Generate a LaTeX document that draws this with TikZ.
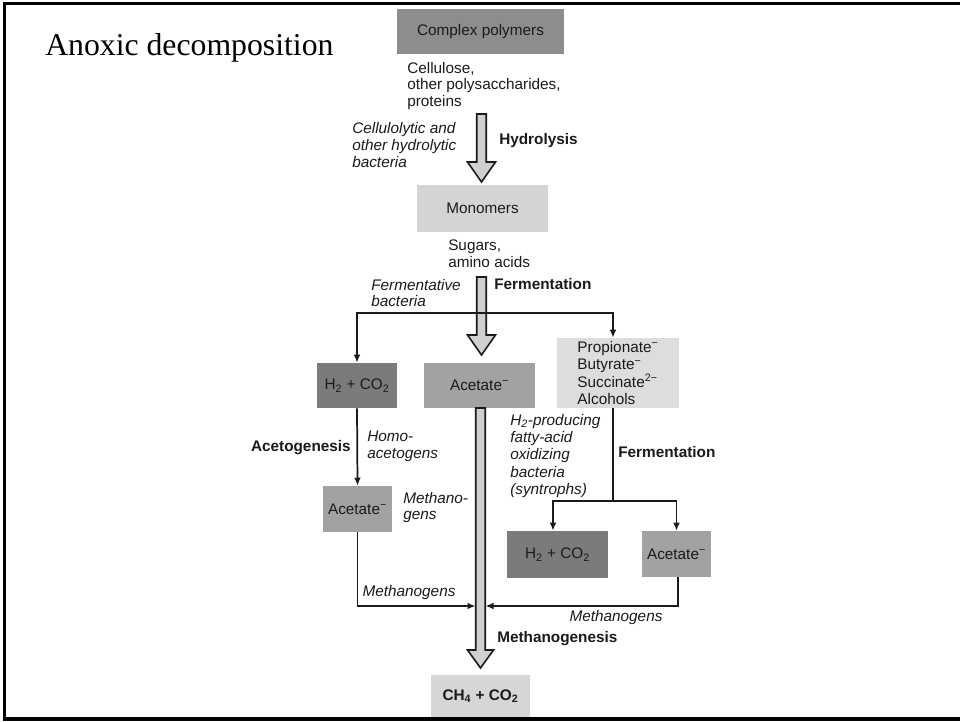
\documentclass[tikz,border=0pt]{standalone}
\usepackage{fontspec}
\setmainfont{Liberation Sans}
\newfontfamily\titlefont{Liberation Serif}
\usetikzlibrary{arrows.meta,calc}
\definecolor{gA}{HTML}{8D8D8D}
\definecolor{gB}{HTML}{D4D4D4}
\definecolor{gC}{HTML}{7B7B7B}
\definecolor{gD}{HTML}{A2A2A2}
\definecolor{gE}{HTML}{DDDDDD}
\definecolor{gF}{HTML}{D6D6D6}
\definecolor{gArr}{HTML}{D0D0D0}
\definecolor{ink}{HTML}{1A1A1A}
\newcommand\dfont{\fontsize{11.5pt}{12.6pt}\selectfont}
\newcommand\bigarrow[5]{%
  \draw[bigarr] ({#1-4.75},#2) -- ({#1-4.75},#3) -- ({#1-#5},#3) -- (#1,#4) -- ({#1+#5},#3) -- ({#1+4.75},#3) -- ({#1+4.75},#2) -- cycle;}
\tikzset{
  box/.style={inner sep=0pt, align=center, text=ink, font=\dfont},
  txt/.style={inner sep=0pt, align=left, text=ink, font=\dfont},
  itxt/.style={txt, font=\dfont\itshape},
  btxt/.style={txt, font=\dfont\bfseries},
  conn/.style={line width=1.3pt, draw=ink},
  arr/.style={conn, -{Latex[length=6pt,width=5pt]}},
  bigarr/.style={line width=1.2pt, draw=ink, fill=gArr, line join=miter},
  frame/.style={line width=2.4pt, draw=black}
}
\begin{document}
\begin{tikzpicture}[x=0.75pt,y=-0.75pt]
\useasboundingbox (0,0) rectangle (960,721);
% frame
\draw[frame] (960,3.5) -- (4.5,3.5) -- (4.5,719) -- (960,719);
% title
\node[anchor=base west, inner sep=0pt, font=\titlefont\fontsize{23.8pt}{26pt}\selectfont] (title) at (45,55) {Anoxic decomposition};

% boxes
\node[box, fill=gA, minimum width=125.25pt, minimum height=33.75pt] (cp) at (480.5,31.5) {Complex polymers};
\node[box, fill=gB, minimum width=98.25pt, minimum height=35.25pt] (mono) at (482.5,208.5) {Monomers};
\node[box, fill=gC, minimum width=60pt, minimum height=33.75pt] (h2l) at (357,385.5) {H\textsubscript{2} + CO\textsubscript{2}};
\node[box, fill=gD, minimum width=83.25pt, minimum height=33.75pt] (acc) at (479.5,385.5) {Acetate\textsuperscript{−}};
\node[box, fill=gE, minimum width=91.5pt, minimum height=52.5pt, align=left, font=\fontsize{11.5pt}{12.9pt}\selectfont] (prop) at (618,373) {Propionate\textsuperscript{−}\\Butyrate\textsuperscript{−}\\Succinate\textsuperscript{2−}\\Alcohols};
\node[box, fill=gD, minimum width=51.75pt, minimum height=34.5pt] (acl) at (357.5,509) {Acetate\textsuperscript{−}};
\node[box, fill=gC, minimum width=75.75pt, minimum height=35.25pt] (h2r) at (557.5,554.5) {H\textsubscript{2} + CO\textsubscript{2}};
\node[box, fill=gD, minimum width=51.75pt, minimum height=34.5pt] (acr) at (676.5,554) {Acetate\textsuperscript{−}};
\node[box, fill=gF, minimum width=74.25pt, minimum height=31.5pt, font=\dfont\bfseries] (ch4) at (480.5,696) {CH\textsubscript{4} + CO\textsubscript{2}};

% texts
\node[txt, anchor=west] (cell) at (407,86) {Cellulose,\\other polysaccharides,\\proteins};
\node[itxt, anchor=west] (hydb) at (352,145) {Cellulolytic and\\other hydrolytic\\bacteria};
\node[btxt, anchor=west] (hydro) at (499,141) {Hydrolysis};
\node[txt, anchor=west] (sug) at (448,253.5) {Sugars,\\amino acids};
\node[itxt, anchor=west] (fbact) at (371,293) {Fermentative\\bacteria};
\node[btxt, anchor=west] (ferm1) at (494,284) {Fermentation};
\node[btxt, anchor=east] (acetog) at (351,448) {Acetogenesis};
\node[itxt, anchor=west] (homo) at (367,446.5) {Homo-\\acetogens};
\node[itxt, anchor=west] (mgens1) at (403,507.5) {Methano-\\gens};
\node[itxt, anchor=west, font=\fontsize{11.5pt}{12.9pt}\selectfont\itshape] (synt) at (510,456) {H\textsubscript{2}-producing\\fatty-acid\\oxidizing\\bacteria\\(syntrophs)};
\node[btxt, anchor=west] (ferm2) at (618,452) {Fermentation};
\node[itxt] (mgens2) at (409,593) {Methanogens};
\node[itxt] (mgens3) at (616,618) {Methanogens};
\node[btxt, anchor=west] (methgen) at (497,639) {Methanogenesis};

% big arrows
\bigarrow{481.5}{114}{162}{182}{14}
\bigarrow{481.5}{277}{335}{355}{14}
\bigarrow{480.5}{408}{650}{668}{13}

% connectors
\coordinate (fsplit) at (481.5,313);
\draw[arr] (fsplit) -| (h2l.north);
\draw[arr] (fsplit) -| ($(prop.north)+(-5,0)$);
\draw[arr] (h2l.south) -- (acl.north);
\coordinate (ljoin) at (475.5,606);
\draw[arr] (acl.south) |- (ljoin);
\coordinate (rsplit) at ($(prop.south)+(-5,93)$);
\draw[conn] ($(prop.south)+(-5,0)$) -- (rsplit);
\draw[arr] (rsplit) -| ($(h2r.north)+(-4.5,0)$);
\draw[arr] (rsplit) -| (acr.north);
\coordinate (rjoin) at (485.5,606);
\draw[arr] ($(acr.south)+(1.5,0)$) |- (rjoin);
\draw[conn] ($(h2r.south)+(-4.5,0)$) -- ($(h2r.south)+(-4.5,0)$ |- rjoin);
\end{tikzpicture}
\end{document}
